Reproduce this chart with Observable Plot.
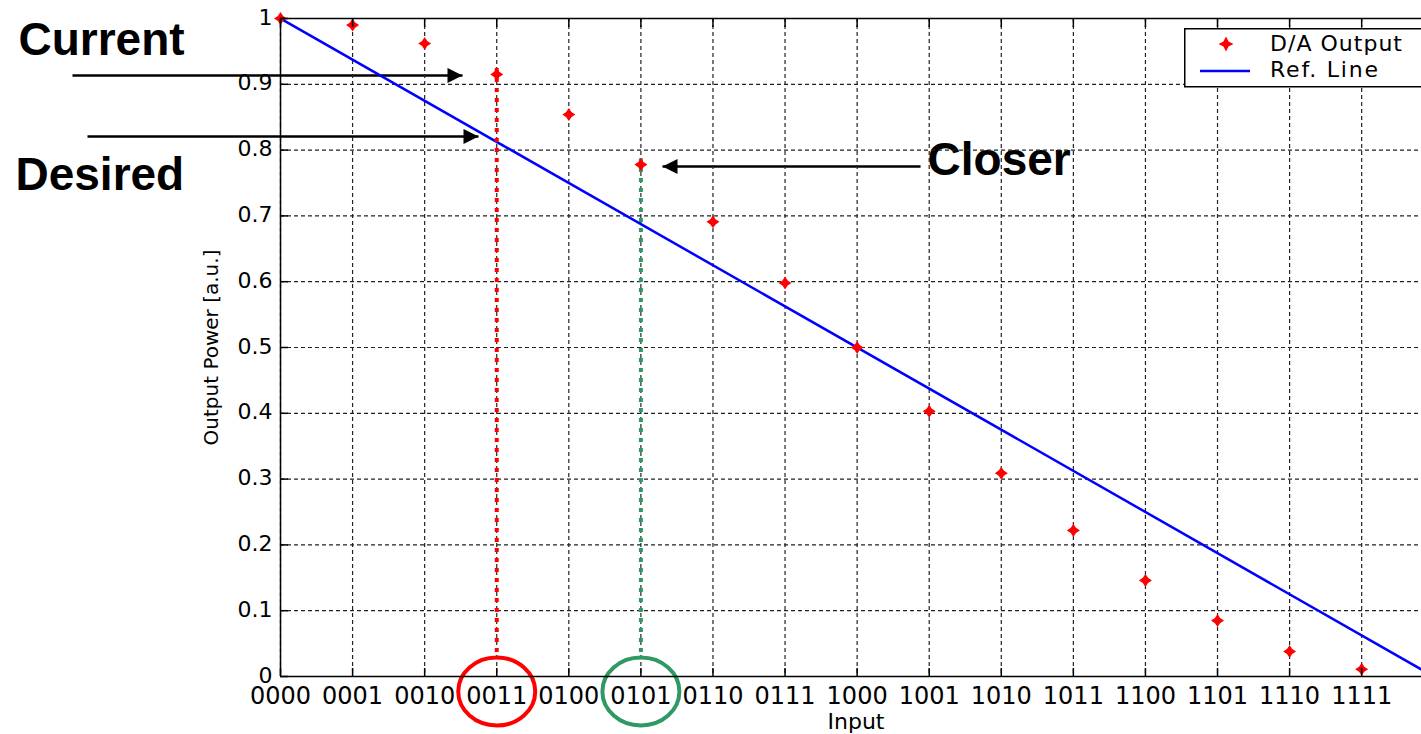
<!DOCTYPE html>
<html><head><meta charset="utf-8">
<script src="https://cdn.jsdelivr.net/npm/d3@7"></script>
<script src="https://cdn.jsdelivr.net/npm/@observablehq/plot@0.6"></script>
<style>
body{margin:0;background:#fff;}
#wrap{position:relative;width:1421px;height:734px;overflow:hidden;background:#fff;}
#legend{position:absolute;left:1184px;top:28px;width:260px;height:59px;}
</style></head><body><div id="wrap"></div>
<script>
// ---- data ----
const codes = ["0000","0001","0010","0011","0100","0101","0110","0111","1000","1001","1010","1011","1100","1101","1110","1111"];
const codeIndex = [0,1,2,3,4,5,6,7,8,9,10,11,12,13,14,15];
const daOutput = [1.0, 0.99, 0.962, 0.915, 0.854, 0.778, 0.691, 0.598, 0.5, 0.403, 0.309, 0.222, 0.146, 0.085, 0.038, 0.011];
const refX = [0, 16];
const refY = [1, 0];
const yTicks = [0, 0.1, 0.2, 0.3, 0.4, 0.5, 0.6, 0.7, 0.8, 0.9, 1];
const yTickLabels = ["0","0.1","0.2","0.3","0.4","0.5","0.6","0.7","0.8","0.9","1"];
const xDomain = [0, 15.83];
// annotations (data units)
const markerLines = [
  {x: 3, y1: 0.0365, y2: 0.932, color: "red"},
  {x: 5, y1: 0.0365, y2: 0.787, color: "#2f9966"}
];
const circled = [
  {x: 3, y: -0.0228, color: "red"},
  {x: 5, y: -0.0228, color: "#2f9966"}
];
const arrows = [
  {x1: -2.886, x2: 2.525, y: 0.9134, dir: "right"},
  {x1: -2.678, x2: 2.747, y: 0.8207, dir: "right"},
  {x1: 8.88, x2: 5.30, y: 0.775, dir: "left"}
];
const labels = [
  {text: "Current", x: -3.635, y: 0.9666},
  {text: "Desired", x: -3.677, y: 0.7614},
  {text: "Closer", x: 8.977, y: 0.785}
];

const rows = codeIndex.map(i => ({i, code: codes[i], v: daOutput[i]}));
const refRows = refX.map((x, k) => ({x, y: refY[k]}));

// ---- symbols ----
const star4 = {draw(ctx, size){ const r = Math.sqrt(size/Math.PI), a = r*0.4;
  ctx.moveTo(0,-r); ctx.lineTo(a,-a); ctx.lineTo(r,0); ctx.lineTo(a,a);
  ctx.lineTo(0,r); ctx.lineTo(-a,a); ctx.lineTo(-r,0); ctx.lineTo(-a,-a); ctx.closePath(); }};
const ellipse = {draw(ctx){ const rx = 38.5, ry = 34, k = 0.5523;
  ctx.moveTo(rx,0);
  ctx.bezierCurveTo(rx, ry*k, rx*k, ry, 0, ry);
  ctx.bezierCurveTo(-rx*k, ry, -rx, ry*k, -rx, 0);
  ctx.bezierCurveTo(-rx, -ry*k, -rx*k, -ry, 0, -ry);
  ctx.bezierCurveTo(rx*k, -ry, rx, -ry*k, rx, 0); ctx.closePath(); }};
const headRight = {draw(ctx){ ctx.moveTo(0,0); ctx.lineTo(-15,-7.5); ctx.lineTo(-15,7.5); ctx.closePath(); }};
const headLeft = {draw(ctx){ ctx.moveTo(0,0); ctx.lineTo(15,-7.5); ctx.lineTo(15,7.5); ctx.closePath(); }};

const F = "DejaVu Sans";
const gridStyle = {stroke: "#222", strokeOpacity: 1, strokeWidth: 1.2, strokeDasharray: "4,3"};

const chart = Plot.plot({
  width: 1421, height: 734,
  marginLeft: 280, marginRight: 0, marginTop: 18, marginBottom: 58,
  style: {background: "#fff", fontFamily: F, color: "#000"},
  x: {domain: xDomain},
  y: {domain: [0, 1]},
  marks: [
    Plot.text(labels, {x: "x", y: "y", text: "text", textAnchor: "start", lineAnchor: "middle",
      fontSize: 46, fontWeight: "bold", fontFamily: "Liberation Sans", fill: "#000"}),
    Plot.link(arrows, {x1: "x1", x2: "x2", y1: "y", y2: "y", stroke: "#000", strokeWidth: 2.5}),
    Plot.dot(arrows.filter(d => d.dir === "right"), {x: "x2", y: "y", symbol: headRight, r: 6, fill: "#000", stroke: null}),
    Plot.dot(arrows.filter(d => d.dir === "left"), {x: "x2", y: "y", symbol: headLeft, r: 6, fill: "#000", stroke: null}),
    Plot.gridX({ticks: codeIndex, ...gridStyle}),
    Plot.gridY({ticks: yTicks, ...gridStyle}),
    Plot.line(refRows, {x: "x", y: "y", stroke: "#0000ff", strokeWidth: 2.5, clip: true}),
    Plot.ruleX(markerLines, {x: "x", y1: "y1", y2: "y2", stroke: "color", strokeWidth: 4, strokeDasharray: "4,6"}),
    Plot.dot(rows, {x: "i", y: "v", symbol: star4, r: 6.5, fill: "red", stroke: null}),
    Plot.dot(circled, {x: "x", y: "y", symbol: ellipse, r: 6, fill: "none", stroke: "color", strokeWidth: 4}),
    Plot.ruleX([0], {stroke: "#000", strokeWidth: 1.5}),
    Plot.ruleY([0, 1], {stroke: "#000", strokeWidth: 1.5}),
    Plot.axisX({ticks: codeIndex, tickSize: 8, dy: -8, tickFormat: () => "", label: null, strokeWidth: 1.5}),
    Plot.axisX({anchor: "top", ticks: codeIndex, tickSize: 8, dy: 8, tickFormat: () => "", label: null, strokeWidth: 1.5}),
    Plot.axisY({ticks: yTicks, tickSize: 8, dx: 8, tickFormat: () => "", label: null, strokeWidth: 1.5}),
    Plot.axisX({ticks: codeIndex, tickSize: 0, tickPadding: 10, tickFormat: i => codes[i], label: null,
      fontSize: 24, fontFamily: F, fill: "#000"}),
    Plot.axisY({ticks: yTicks, tickSize: 0, tickPadding: 8, tickFormat: d => yTickLabels[yTicks.indexOf(d)], label: null,
      fontSize: 22, fontFamily: F, fill: "#000", dy: -1}),
    Plot.text(["Output Power [a.u.]"], {text: d => d, frameAnchor: "left", textAnchor: "middle", lineAnchor: "middle",
      rotate: -90, dx: -69, fontSize: 20, fontFamily: F, fill: "#000"}),
    Plot.text(["Input"], {text: d => d, frameAnchor: "bottom", textAnchor: "middle", lineAnchor: "middle",
      dx: 5, dy: 45, fontSize: 22, fontFamily: F, fill: "#000"})
  ]
});
const wrap = document.getElementById("wrap");
wrap.appendChild(chart);

// legend (overlay, top-right inside the axes)
const legend = document.createElement("div");
legend.id = "legend";
legend.innerHTML = `<svg width="260" height="60" style="font-family:'DejaVu Sans';font-size:22px">
  <rect x="0.75" y="0.75" width="270" height="58" fill="#fff" stroke="#000" stroke-width="1.5"/>
  <path d="M42,8.5 L44.6,13.4 L49.5,16 L44.6,18.6 L42,23.5 L39.4,18.6 L34.5,16 L39.4,13.4 Z" fill="red"/>
  <line x1="16" x2="66" y1="43" y2="43" stroke="#0000ff" stroke-width="2.5"/>
  <text x="86" y="23" fill="#000" textLength="132">D/A Output</text>
  <text x="86" y="49" fill="#000" textLength="108">Ref. Line</text>
</svg>`;
wrap.appendChild(legend);
</script>
</body></html>
